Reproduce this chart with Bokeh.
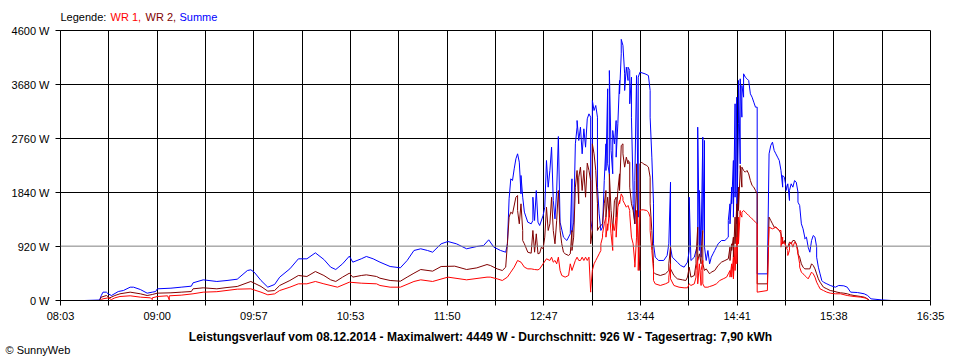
from bokeh.plotting import figure
from bokeh.layouts import column
from bokeh.models import Range1d, FixedTicker, Span, Label, CustomJSTickFormatter
from bokeh.embed import file_html
from bokeh.resources import INLINE

# ---------------- data (time of day, watts) ----------------
SUMME = [("08:17",0),("08:26",8),("08:27",85),("08:28",142),("08:30",142),("08:31",114),("08:33",85),("08:37",153),("08:40",170),("08:44",227),("08:46",227),("08:50",187),("08:54",125),("08:57",142),("08:59",153),("09:00",199),("09:08",210),("09:14",227),("09:20",244),("09:21",301),("09:27",352),("09:35",324),("09:41",341),("09:47",363),("09:53",511),("09:55",523),("09:57",483),("10:01",341),("10:05",227),("10:09",273),("10:12",398),("10:18",540),("10:23",710),("10:28",710),("10:33",812),("10:38",699),("10:42",568),("10:45",528),("10:49",625),("10:53",756),("10:55",653),("11:00",710),("11:03",750),("11:07",710),("11:11",653),("11:17",579),("11:23",557),("11:27",682),("11:31",852),("11:35",881),("11:39",852),("11:42",823),("11:47",966),("11:51",1005),("11:56",966),("12:02",881),("12:08",920),("12:12",937),("12:15",1034),("12:18",909),("12:22",852),("12:25",823),("12:26",966),("12:27",1732),("12:28",2073),("12:29",2044),("12:30",2243),("12:31",2414),("12:32",2499),("12:33",2357),("12:34",1817),("12:34",2130),("12:35",1760),("12:36",1505),("12:38",1335),("12:40",1306),("12:41",1363),("12:41",1760),("12:42",1363),("12:43",1874),("12:44",1335),("12:45",1278),("12:47",1448),("12:48",1590),("12:49",2385),("12:50",1931),("12:51",2215),("12:52",2612),("12:53",1704),("12:54",1391),("12:55",1874),("12:56",2794),("12:57",1335),("12:59",1079),("13:01",1022),("13:03",1136),("13:04",2073),("13:04",1164),("13:05",1335),("13:06",2669),("13:07",2953),("13:07",3066),("13:08",2726),("13:09",2953),("13:10",2499),("13:11",2925),("13:12",2612),("13:13",3095),("13:14",3180),("13:15",3123),("13:15",1363),("13:16",1193),("13:16",3407),("13:17",3237),("13:18",3322),("13:19",3123),("13:19",1931),("13:20",1476),("13:21",1193),("13:22",1249),("13:23",2044),("13:24",2669),("13:24",2215),("13:25",3607),("13:25",2329),("13:26",2158),("13:26",3918),("13:27",2556),("13:28",2158),("13:28",2896),("13:29",2669),("13:30",3066),("13:30",2442),("13:31",3010),("13:32",3748),("13:32",3521),("13:33",4203),("13:33",4449),("13:34",4345),("13:35",3862),("13:35",3578),("13:36",3975),("13:37",3748),("13:37",3975),("13:38",3918),("13:38",3351),("13:39",3805),("13:39",3123),("13:40",1874),("13:40",1647),("13:41",1306),("13:41",2044),("13:42",3833),("13:43",1420),("13:43",3805),("13:44",3890),("13:47",3862),("13:49",3833),("13:50",3578),("13:50",3123),("13:51",2442),("13:52",1647),("13:52",966),("13:53",739),("13:55",682),("13:58",682),("14:00",767),("14:01",966),("14:02",2016),("14:02",909),("14:03",739),("14:06",653),("14:08",596),("14:10",568),("14:12",653),("14:13",852),("14:13",1760),("14:14",681),("14:16",738),("14:17",852),("14:18",966),("14:18",2953),("14:19",852),("14:19",1874),("14:20",738),("14:20",966),("14:21",2783),("14:21",1193),("14:22",2726),("14:22",909),("14:23",681),("14:24",852),("14:25",625),("14:26",738),("14:27",795),("14:28",852),("14:30",966),("14:32",1022),("14:34",1022),("14:36",1079),("14:36",1363),("14:37",1647),("14:37",1306),("14:38",1931),("14:38",1647),("14:39",2385),("14:39",1420),("14:40",3351),("14:40",1760),("14:41",3464),("14:41",1306),("14:42",3010),("14:42",3748),("14:43",2328),("14:43",3777),("14:44",3123),("14:44",3663),("14:45",3464),("14:45",3862),("14:46",3805),("14:47",3777),("14:48",3748),("14:49",3521),("14:50",3464),("14:51",3379),("14:52",3294),("14:53",3294),("14:53",454),("14:59",454),("15:00",2499),("15:01",2641),("15:02",2698),("15:03",2556),("15:04",2499),("15:05",2442),("15:06",2385),("15:07",2215),("15:08",1931),("15:08",2130),("15:09",2101),("15:10",1931),("15:10",1874),("15:11",1988),("15:12",1704),("15:12",1874),("15:13",1988),("15:14",1931),("15:15",2044),("15:16",2016),("15:17",1846),("15:17",1675),("15:18",1619),("15:19",1306),("15:20",1221),("15:21",1079),("15:21",1051),("15:22",1079),("15:23",909),("15:24",823),("15:25",1022),("15:26",1107),("15:27",1079),("15:28",909),("15:28",738),("15:29",568),("15:30",454),("15:31",341),("15:32",312),("15:34",284),("15:36",256),("15:39",227),("15:41",256),("15:44",250),("15:46",227),("15:48",142),("15:52",136),("15:56",114),("15:58",85),("16:00",28),("16:06",11),("16:12",0)]

WR2 = [("08:26",0),("08:27",57),("08:30",85),("08:32",45),("08:35",85),("08:38",114),("08:44",142),("08:50",114),("08:54",85),("08:57",102),("09:00",125),("09:08",131),("09:14",142),("09:20",153),("09:21",199),("09:27",216),("09:35",199),("09:41",221),("09:47",239),("09:55",324),("10:01",239),("10:05",159),("10:09",170),("10:12",256),("10:18",341),("10:23",426),("10:28",409),("10:33",494),("10:38",426),("10:42",352),("10:45",324),("10:49",398),("10:53",465),("10:55",398),("11:00",426),("11:03",437),("11:09",409),("11:11",380),("11:17",341),("11:23",329),("11:27",398),("11:31",465),("11:35",528),("11:42",500),("11:47",579),("11:55",585),("12:02",528),("12:08",556),("12:14",613),("12:16",596),("12:20",539),("12:23",511),("12:25",568),("12:26",966),("12:27",1420),("12:28",1505),("12:29",1477),("12:31",1760),("12:32",1789),("12:32",1533),("12:33",1306),("12:34",1647),("12:35",1193),("12:35",1022),("12:36",966),("12:38",823),("12:40",806),("12:41",1193),("12:42",823),("12:43",1136),("12:44",795),("12:45",806),("12:46",909),("12:47",880),("12:48",1079),("12:49",1590),("12:50",1193),("12:51",1306),("12:52",1760),("12:53",1193),("12:54",966),("12:55",1363),("12:56",1874),("12:57",1193),("12:58",966),("12:59",823),("13:00",795),("13:02",767),("13:03",795),("13:04",1193),("13:04",852),("13:05",1079),("13:06",1931),("13:07",2215),("13:08",1647),("13:08",2101),("13:09",2272),("13:10",1874),("13:11",2215),("13:12",1760),("13:13",2328),("13:13",2340),("13:14",2215),("13:15",2044),("13:15",966),("13:16",1193),("13:16",2669),("13:17",2499),("13:18",2215),("13:19",1647),("13:19",1193),("13:20",1249),("13:22",1306),("13:23",1647),("13:24",1874),("13:24",1420),("13:25",1760),("13:26",1420),("13:26",2158),("13:27",1533),("13:28",1193),("13:29",1704),("13:30",1760),("13:30",1420),("13:31",1874),("13:32",2158),("13:32",1874),("13:33",2641),("13:34",2669),("13:34",2499),("13:35",2272),("13:36",2442),("13:37",2328),("13:37",2385),("13:38",2357),("13:38",1931),("13:39",1647),("13:40",1533),("13:41",1306),("13:42",1874),("13:42",2328),("13:43",966),("13:44",511),("13:44",2328),("13:45",2357),("13:46",2328),("13:48",2300),("13:49",2272),("13:50",2101),("13:50",1647),("13:51",1193),("13:52",625),("13:52",483),("13:53",454),("13:56",426),("13:59",454),("14:01",511),("14:01",625),("14:02",909),("14:02",539),("14:04",426),("14:06",369),("14:09",352),("14:11",341),("14:12",398),("14:13",568),("14:14",398),("14:16",426),("14:17",625),("14:17",738),("14:18",1249),("14:18",681),("14:19",795),("14:20",625),("14:20",795),("14:21",1193),("14:21",625),("14:22",511),("14:23",539),("14:25",454),("14:26",483),("14:28",511),("14:30",596),("14:32",653),("14:34",681),("14:36",710),("14:37",909),("14:37",681),("14:38",966),("14:38",852),("14:39",1079),("14:39",738),("14:40",1420),("14:40",966),("14:41",1647),("14:41",966),("14:42",1931),("14:42",1533),("14:43",2215),("14:43",2300),("14:44",1931),("14:44",2272),("14:45",2215),("14:46",2186),("14:47",2215),("14:48",2158),("14:49",2044),("14:50",1959),("14:51",1931),("14:52",1874),("14:53",1817),("14:53",284),("14:59",284),("15:00",1420),("15:01",1363),("15:02",1306),("15:03",1249),("15:04",1249),("15:05",1221),("15:06",1193),("15:07",1136),("15:08",966),("15:09",1022),("15:10",909),("15:11",909),("15:12",994),("15:13",966),("15:14",1022),("15:15",1022),("15:16",966),("15:17",852),("15:17",795),("15:18",738),("15:19",625),("15:20",568),("15:21",539),("15:23",539),("15:24",539),("15:25",625),("15:26",596),("15:27",539),("15:28",454),("15:29",369),("15:30",312),("15:32",227),("15:34",199),("15:36",170),("15:38",159),("15:40",142),("15:42",131),("15:44",125),("15:46",114),("15:48",97),("15:50",85),("15:54",68),("15:56",57),("15:58",28),("15:59",0)]

WR1 = [("08:27",17),("08:28",28),("08:31",45),("08:33",17),("08:35",45),("08:38",68),("08:44",80),("08:50",57),("08:56",45),("08:57",15),("08:57",45),("09:00",68),("09:06",80),("09:07",11),("09:07",80),("09:14",91),("09:21",114),("09:27",142),("09:35",150),("09:47",193),("09:55",199),("10:01",142),("10:05",97),("10:09",113),("10:12",170),("10:18",227),("10:23",284),("10:28",284),("10:33",324),("10:38",284),("10:46",227),("10:53",312),("11:00",295),("11:09",284),("11:11",256),("11:17",227),("11:23",227),("11:31",324),("11:35",352),("11:42",324),("11:51",398),("12:02",352),("12:14",398),("12:16",398),("12:20",369),("12:23",341),("12:26",398),("12:28",483),("12:30",568),("12:32",682),("12:34",653),("12:36",568),("12:38",539),("12:40",539),("12:42",528),("12:44",522),("12:45",539),("12:47",625),("12:49",710),("12:51",682),("12:52",738),("12:53",653),("12:54",682),("12:55",625),("12:56",738),("12:57",511),("12:58",426),("13:00",398),("13:02",426),("13:03",625),("13:04",511),("13:06",682),("13:07",738),("13:08",682),("13:09",682),("13:10",738),("13:11",682),("13:12",738),("13:13",682),("13:14",738),("13:15",142),("13:15",170),("13:16",511),("13:17",625),("13:18",682),("13:19",738),("13:20",795),("13:21",852),("13:21",966),("13:22",1079),("13:22",1136),("13:23",1306),("13:24",1420),("13:24",1079),("13:25",1306),("13:25",1193),("13:26",1533),("13:27",1136),("13:28",852),("13:28",1306),("13:29",1193),("13:30",1420),("13:30",1079),("13:31",1590),("13:32",1704),("13:32",1647),("13:33",1817),("13:34",1760),("13:34",1704),("13:35",1647),("13:36",1590),("13:37",1619),("13:38",1533),("13:38",1477),("13:39",1079),("13:40",966),("13:41",625),("13:41",568),("13:42",1079),("13:42",1533),("13:43",966),("13:43",511),("13:44",1533),("13:45",1545),("13:46",1545),("13:48",1533),("13:49",1505),("13:50",1420),("13:50",1193),("13:51",852),("13:52",511),("13:52",341),("13:53",284),("13:56",256),("13:59",284),("14:01",312),("14:01",398),("14:02",625),("14:02",369),("14:04",256),("14:07",227),("14:10",216),("14:12",216),("14:13",284),("14:14",256),("14:16",284),("14:17",398),("14:17",511),("14:18",738),("14:18",284),("14:19",625),("14:20",256),("14:20",511),("14:21",682),("14:21",284),("14:22",227),("14:24",227),("14:25",238),("14:27",256),("14:29",284),("14:31",341),("14:33",369),("14:35",398),("14:36",454),("14:37",511),("14:37",398),("14:38",625),("14:38",398),("14:39",738),("14:39",369),("14:40",909),("14:40",511),("14:41",1079),("14:41",625),("14:42",1420),("14:42",966),("14:43",1533),("14:43",1477),("14:44",1420),("14:44",1505),("14:45",1533),("14:46",1505),("14:47",1477),("14:48",1448),("14:49",1420),("14:50",1391),("14:51",1363),("14:52",1335),("14:53",1306),("14:53",142),("14:59",170),("15:00",1249),("15:02",1221),("15:04",1249),("15:06",1193),("15:07",1193),("15:07",909),("15:08",1079),("15:08",966),("15:09",994),("15:10",909),("15:11",852),("15:11",767),("15:12",852),("15:12",966),("15:13",994),("15:14",909),("15:15",994),("15:16",966),("15:17",795),("15:18",625),("15:18",568),("15:19",483),("15:20",454),("15:21",426),("15:22",398),("15:23",369),("15:24",426),("15:25",483),("15:26",454),("15:27",398),("15:28",312),("15:29",256),("15:30",199),("15:32",170),("15:34",142),("15:36",125),("15:39",114),("15:42",114),("15:46",85),("15:50",68),("15:54",57),("15:57",40),("15:58",17),("15:59",0)]

X_TICK_LABELS = ["08:03", "09:00", "09:57", "10:53", "11:50", "12:47", "13:44", "14:41", "15:38", "16:35"]
Y_TICKS = [0, 920, 1840, 2760, 3680, 4600]
Y_TICK_LABELS = ["0 W", "920 W", "1840 W", "2760 W", "3680 W", "4600 W"]
AVERAGE_W = 926
LEGEND = [("Legende:", "#000000"), ("WR 1,", "#FF0000"), ("WR 2,", "#800000"), ("Summe", "#0000FF")]
BOTTOM_TEXT = "Leistungsverlauf vom 08.12.2014 - Maximalwert: 4449 W - Durchschnitt: 926 W - Tagesertrag: 7,90 kWh"
CREDIT = "\u00a9 SunnyWeb"

FONT = "Liberation Sans"
W = 960
TOP_H = 23
MAIN_TOP, FRAME_H, MAIN_BOTTOM = 7, 270, 28
BOTTOM_H = 360 - TOP_H - MAIN_TOP - FRAME_H - MAIN_BOTTOM


def to_min(s):
    h, m = s.split(":")
    return int(h) * 60 + int(m)


def split(series):
    return [to_min(t) for t, _ in series], [w for _, w in series]


def text_strip(height):
    f = figure(width=W, height=height, x_range=Range1d(0, W), y_range=Range1d(0, height),
               x_axis_type=None, y_axis_type=None, output_backend="svg",
               toolbar_location=None, min_border=0, outline_line_color=None,
               background_fill_color="white", border_fill_color="white",
               frame_align=False)
    return f


x_start = to_min(X_TICK_LABELS[0])
x_end = to_min(X_TICK_LABELS[-1])
n_int = 2 * (len(X_TICK_LABELS) - 1)
step = (x_end - x_start) / n_int
x_ticks = [x_start + k * step for k in range(n_int + 1)]

p = figure(width=W, height=MAIN_TOP + FRAME_H + MAIN_BOTTOM,
           x_range=Range1d(x_start, x_end), y_range=Range1d(Y_TICKS[0], Y_TICKS[-1]),
           output_backend="svg", toolbar_location=None,
           min_border_left=60, min_border_right=30, min_border_top=MAIN_TOP,
           min_border_bottom=MAIN_BOTTOM,
           background_fill_color="white", border_fill_color="white",
           outline_line_color="black", outline_line_width=1, frame_align=False)

p.xaxis.ticker = FixedTicker(ticks=x_ticks)
p.xaxis.formatter = CustomJSTickFormatter(
    args=dict(t0=x_start, step=step, labels=X_TICK_LABELS),
    code="""
const i = Math.round((tick - t0) / step);
return (i % 2 == 0) ? labels[i / 2] : "";
""")
p.yaxis.ticker = FixedTicker(ticks=Y_TICKS)
p.yaxis.formatter = CustomJSTickFormatter(
    args=dict(vals=Y_TICKS, labels=Y_TICK_LABELS),
    code="""
let best = 0;
for (let i = 0; i < vals.length; i++) { if (Math.abs(vals[i] - tick) < Math.abs(vals[best] - tick)) best = i; }
return labels[best];
""")

for ax in (p.xaxis, p.yaxis):
    ax.axis_line_color = "black"
    ax.axis_line_width = 1
    ax.major_tick_line_color = "black"
    ax.major_tick_out = 5
    ax.major_tick_in = 0
    ax.minor_tick_line_color = None
    ax.major_label_text_font = FONT
    ax.major_label_text_font_size = "11px"
    ax.major_label_text_color = "black"
p.xaxis.major_label_standoff = 4
p.yaxis.major_label_standoff = 6

p.xgrid.grid_line_color = "black"
p.xgrid.grid_line_alpha = 1
p.ygrid.ticker = FixedTicker(ticks=[t for t in Y_TICKS if abs(t - AVERAGE_W) > 100])
p.ygrid.grid_line_color = "black"
p.ygrid.grid_line_alpha = 1

for data, color in ((SUMME, "#0000FF"), (WR2, "#800000"), (WR1, "#FF0000")):
    xs, ys = split(data)
    p.line(xs, ys, line_color=color, line_width=1)

p.add_layout(Span(location=AVERAGE_W, dimension="width", line_color="#808080",
                  line_width=1, level="overlay"))

# legend strip above the chart
top = text_strip(TOP_H)
legend_x = [60, 110, 145, 179]
for (txt, col), lx in zip(LEGEND, legend_x):
    top.add_layout(Label(x=lx, y=TOP_H - 16, x_units="screen", y_units="screen", text=txt,
                         text_color=col, text_font=FONT, text_font_size="11px",
                         text_baseline="middle", text_align="left"))

# bottom strip: summary line and credit
bottom = text_strip(BOTTOM_H)
y0 = TOP_H + MAIN_TOP + FRAME_H + MAIN_BOTTOM
bottom.add_layout(Label(x=480, y=BOTTOM_H - (336 - y0), x_units="screen", y_units="screen",
                        text=BOTTOM_TEXT, text_color="black", text_font=FONT,
                        text_font_size="12px", text_font_style="bold",
                        text_baseline="middle", text_align="center"))
bottom.add_layout(Label(x=5, y=BOTTOM_H - (349 - y0), x_units="screen", y_units="screen",
                        text=CREDIT, text_color="black", text_font=FONT,
                        text_font_size="11px", text_baseline="middle", text_align="left"))

layout = column(top, p, bottom, spacing=0)
open("out.html", "w").write(file_html(layout, INLINE))
